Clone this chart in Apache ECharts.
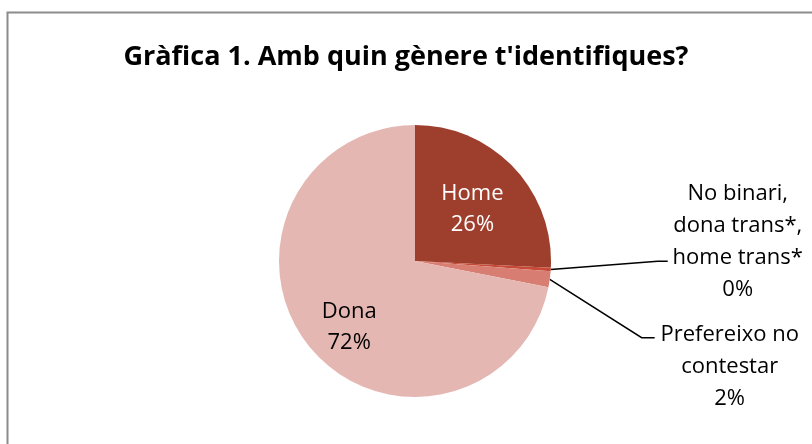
<!DOCTYPE html>
<html>
<head>
<meta charset="utf-8">
<style>
  html, body { margin: 0; padding: 0; background: #fff; }
  #chart { width: 812px; height: 444px; }
</style>
<script src="https://cdn.jsdelivr.net/npm/echarts@6/dist/echarts.min.js"></script>
</head>
<body>
<div id="chart"></div>
<script>
// Dades de la gràfica
var titleText = "Gràfica 1. Amb quin gènere t'identifiques?";
var categories = ['Home', 'No binari,\ndona trans*,\nhome trans*', 'Prefereixo no\ncontestar', 'Dona'];
var values = [25.8, 0.4, 1.9, 71.9];
var colors = ['#9e3f2e', '#c64a37', '#d77d72', '#e5b7b2'];

var FONT = '"Open Sans", "Noto Sans", sans-serif';
var FONT_SIZE = 22;
var LINE_H = 32;

// estil per etiqueta (posició dins/fora, línia guia)
var labelStyle = {
    0: { inside: true, color: '#fff', offset: [6, -3] },
    1: { inside: false, width: 130, length2: 107, hook: 10, shift: -9, anchor: 2 },
    2: { inside: false, width: 140, length2: 95, hook: 13, shift: 57, anchor: 0 },
    3: { inside: true, color: '#000', offset: [-11, 21] }
};

var chart = echarts.init(document.getElementById('chart'));

var pieData = categories.map(function (name, i) {
    var s = labelStyle[i];
    var item = {
        name: name,
        value: values[i],
        itemStyle: { color: colors[i] }
    };
    if (s.inside) {
        item.label = { position: 'inside', color: s.color, offset: s.offset };
        item.labelLine = { show: false };
    } else {
        item.label = {
            position: 'outside',
            color: '#000',
            rich: {
                a: {
                    width: s.width,
                    align: 'center',
                    lineHeight: LINE_H,
                    fontSize: FONT_SIZE,
                    fontFamily: FONT,
                    color: '#000'
                }
            }
        };
        item.labelLine = { show: true, length: 10, length2: s.length2 };
    }
    return item;
});

var option = {
    animation: false,
    backgroundColor: '#fff',
    title: {
        text: titleText,
        left: 'center',
        top: 39,
        textStyle: {
            fontFamily: FONT,
            fontWeight: 'bold',
            fontSize: 27,
            color: '#000'
        }
    },
    graphic: [{
        type: 'rect',
        left: 5,
        top: 10,
        shape: { width: 900, height: 600 },
        style: { fill: 'none', stroke: '#8c8c8c', lineWidth: 2 },
        silent: true
    }],
    series: [{
        type: 'pie',
        center: [415, 261],
        radius: 136,
        startAngle: 90,
        clockwise: true,
        percentPrecision: 0,
        avoidLabelOverlap: false,
        itemStyle: { borderWidth: 0 },
        label: {
            fontFamily: FONT,
            fontSize: FONT_SIZE,
            lineHeight: 31,
            distanceToLabelLine: 5,
            formatter: function (p) {
                var s = labelStyle[p.dataIndex];
                var lines = p.name.split('\n').concat([p.percent + '%']);
                if (s.inside) {
                    return lines.join('\n');
                }
                return lines.map(function (l) { return '{a|' + l + '}'; }).join('\n');
            }
        },
        labelLine: {
            lineStyle: { color: '#000', width: 1.5 }
        },
        emphasis: { disabled: true },
        labelLayout: function (p) {
            var s = labelStyle[p.dataIndex];
            if (!s || s.inside || !p.labelLinePoints) {
                return {};
            }
            var pts = p.labelLinePoints;
            var y = pts[2][1] + s.shift;
            return {
                y: y - (s.anchor + 0.5) * LINE_H - 3,
                verticalAlign: 'top',
                labelLinePoints: [pts[0], [pts[2][0] - s.hook, y], [pts[2][0], y]]
            };
        },
        data: pieData
    }]
};

chart.setOption(option);
</script>
</body>
</html>
